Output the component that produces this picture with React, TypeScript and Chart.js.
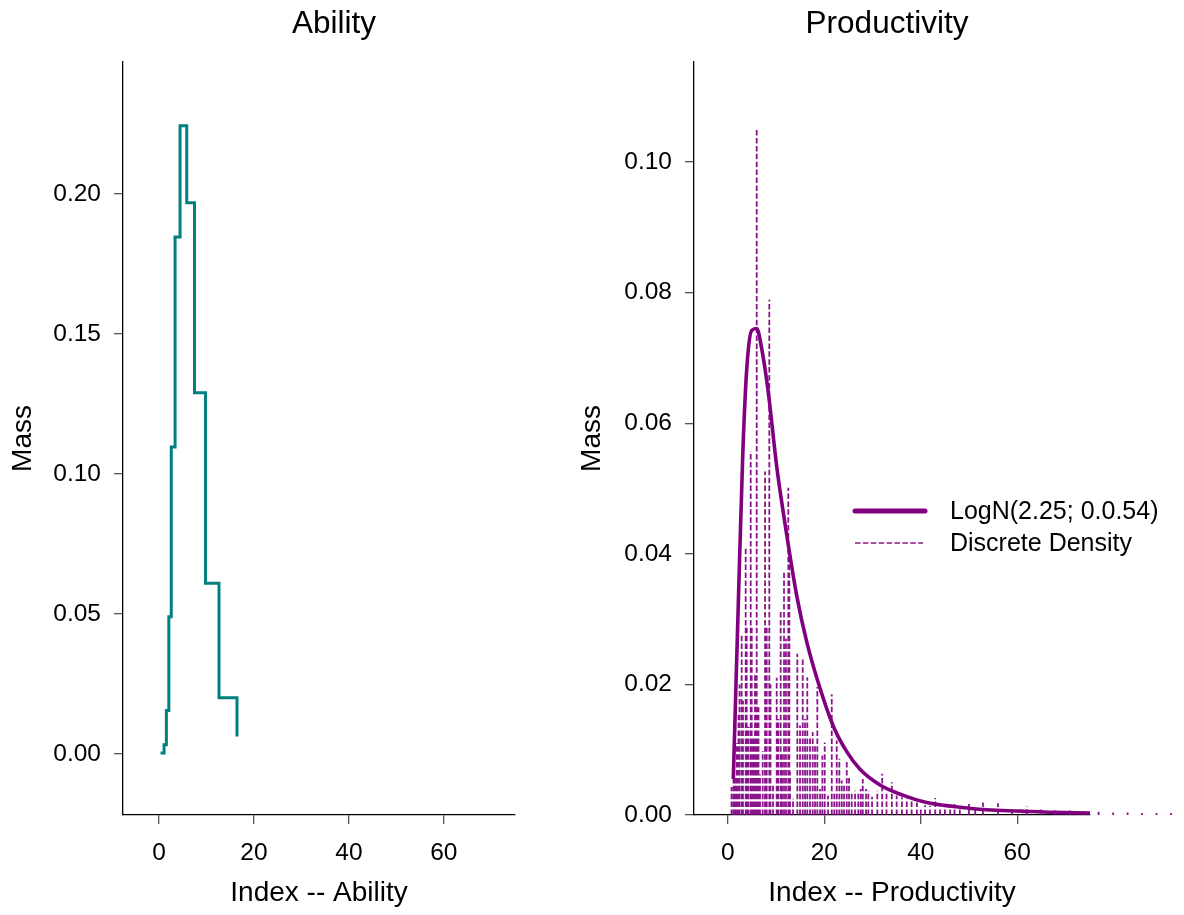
import React, { useEffect, useRef } from "react";
import { Chart, registerables } from "chart.js";

Chart.register(...registerables);

const FONT = "'Liberation Sans', Arial, Helvetica, sans-serif";
const PURPLE = "#800080";
const STEM_COLOR = "rgba(128,0,128,0.92)";
const TEAL = "#008080";

// ---------- Ability panel ----------
const abilityIndex = [0.32, 1.05, 1.54, 2.06, 2.57, 3.37, 4.42, 5.83, 7.47, 9.79, 12.63, 16.42];
const abilityMass = [0.0003, 0.0033, 0.0155, 0.049, 0.1096, 0.1846, 0.2243, 0.1968, 0.129, 0.061, 0.0201, 0.0062];
const abilityXTicks = [0, 20, 40, 60];
const abilityYTicks = [0, 0.05, 0.1, 0.15, 0.2];

// ---------- Productivity panel ----------
const logNormIndex = [
  1.12, 2.16, 3.07, 3.9, 4.94, 5.98, 7.01, 8.38, 10.12, 12.2, 14.27, 16.35, 19.1, 21.87, 24.65, 27.4,
  31.55, 36.4, 41.2, 46.8, 53.7, 60.6, 67.4, 75.1,
];
const logNormMass = [
  0.0055, 0.0324, 0.0549, 0.0682, 0.0742, 0.0745, 0.0714, 0.0647, 0.0534, 0.0429, 0.0336, 0.0265, 0.0194,
  0.0136, 0.0097, 0.007, 0.0046, 0.003, 0.0019, 0.0013, 0.0008, 0.0006, 0.0004, 0.0003,
];
const discreteIndex = [
  0.75, 1.16, 1.47, 1.83, 2.2, 2.41, 2.86, 3.13, 3.69, 3.9, 4.27, 4.73, 4.94, 5.31, 5.62, 5.98, 6.35, 6.66,
  7.22, 7.7, 8.05, 8.59, 8.84, 9.36, 10.12, 10.46, 10.95, 11.22, 11.64, 12.05, 12.53, 12.74, 12.88, 13.51,
  14.4, 14.96, 15.52, 16.0, 16.47, 17.03, 17.59, 18.07, 18.55, 19.11, 19.59, 20.08, 20.77, 21.54, 22.07,
  22.57, 23.11, 23.61, 24.09, 24.65, 25.12, 25.68, 26.37, 27.05, 27.55, 27.97, 28.65, 29.13, 29.9, 31.0,
  32.0, 32.9, 34.0, 35.0, 36.1, 37.1, 38.1, 39.2, 40.0, 40.9, 41.9, 43.0, 44.0, 45.0, 46.1, 47.0, 48.1,
  50.0, 51.3, 52.9, 56.0, 58.9, 62.0, 65.0, 67.9, 70.9, 73.9, 76.9, 79.9, 82.9, 85.9, 88.9, 91.9,
];
const discreteMass = [
  0.0043, 0.0085, 0.0059, 0.011, 0.0155, 0.02, 0.0277, 0.0175, 0.041, 0.029, 0.0135, 0.0557, 0.029, 0.012,
  0.0217, 0.1052, 0.0165, 0.0062, 0.0098, 0.0526, 0.029, 0.0789, 0.02, 0.0045, 0.021, 0.0147, 0.0312,
  0.0095, 0.0371, 0.027, 0.0501, 0.039, 0.0066, 0.0025, 0.0247, 0.0137, 0.0241, 0.0147, 0.0211, 0.0119,
  0.0127, 0.0106, 0.0196, 0.004, 0.0091, 0.0111, 0.003, 0.0185, 0.0035, 0.0114, 0.0086, 0.0053, 0.0045,
  0.0083, 0.006, 0.0035, 0.0037, 0.0035, 0.004, 0.0055, 0.004, 0.0037, 0.0028, 0.0037, 0.0063, 0.0035,
  0.005, 0.003, 0.0027, 0.0025, 0.0022, 0.0019, 0.0011, 0.0015, 0.0014, 0.0026, 0.0013, 0.0009, 0.0009,
  0.0017, 0.001, 0.0017, 0.0008, 0.0019, 0.0018, 0.001, 0.0013, 0.001, 0.0007, 0.0007, 0.0006, 0.0005,
  0.0004, 0.0004, 0.0003, 0.0003, 0.0003,
];
const prodXTicks = [0, 20, 40, 60];
const prodYTicks = [0, 0.02, 0.04, 0.06, 0.08, 0.1];

const panelTitles = ["Ability", "Productivity"];
const xTitles = ["Index -- Ability", "Index -- Productivity"];
const yTitle = "Mass";
const seriesLabels = ["LogN(2.25; 0.0.54)", "Discrete Density"];

type AxisSpec = {
  xMin: number;
  xMax: number;
  yMin: number;
  yMax: number;
  xTicks: number[];
  yTicks: number[];
  xTitle: string;
  yWidth: number;
  yTitlePad: number;
};

function buildScales(s: AxisSpec) {
  const tickFont = { family: FONT, size: 24.5 };
  const titleFont = { family: FONT, size: 28 };
  const grid = {
    display: true,
    drawOnChartArea: false,
    drawTicks: true,
    tickLength: 9,
    tickColor: "#555555",
    tickWidth: 1.3,
    lineWidth: 1.3,
  };
  const border = { display: true, color: "#000000", width: 1.3 };
  return {
    x: {
      type: "linear",
      position: "bottom",
      bounds: "data",
      afterBuildTicks: (sc: any) => {
        sc.ticks = s.xTicks.map((v) => ({ value: v }));
        sc.min = s.xMin;
        sc.max = s.xMax;
      },
      afterFit: (sc: any) => {
        sc.height = 100;
      },
      grid,
      border,
      ticks: {
        font: tickFont,
        color: "#000",
        padding: 14.5,
        maxRotation: 0,
        autoSkip: false,
        callback: (v: any) => String(v),
      },
      title: {
        display: true,
        text: s.xTitle,
        font: titleFont,
        color: "#000",
        padding: { top: 0, bottom: 5 },
      },
    },
    y: {
      type: "linear",
      position: "left",
      bounds: "data",
      afterBuildTicks: (sc: any) => {
        sc.ticks = s.yTicks.map((v) => ({ value: v }));
        sc.min = s.yMin;
        sc.max = s.yMax;
      },
      afterFit: (sc: any) => {
        sc.width = s.yWidth;
      },
      grid,
      border,
      ticks: {
        font: tickFont,
        color: "#000",
        padding: 13,
        autoSkip: false,
        callback: (v: any) => Number(v).toFixed(2),
      },
      title: {
        display: true,
        text: yTitle,
        font: titleFont,
        color: "#000",
        padding: { top: s.yTitlePad, bottom: 0 },
      },
    },
  };
}

function titlePlugin(text: string, cx: number) {
  return {
    id: "panelTitle",
    afterDraw(chart: any) {
      const ctx = chart.ctx;
      ctx.save();
      ctx.font = `31.5px ${FONT}`;
      ctx.fillStyle = "#000";
      ctx.textAlign = "center";
      ctx.textBaseline = "alphabetic";
      ctx.fillText(text, cx, 33);
      ctx.restore();
    },
  };
}

const innerLegend = {
  id: "innerLegend",
  afterDraw(chart: any) {
    const ctx = chart.ctx;
    const area = chart.chartArea;
    const x0 = area.left + 161;
    const rows = [
      { y: area.top + 449, width: 5, dash: [] as number[], len: 70 },
      { y: area.top + 481, width: 1.6, dash: [5.5, 2.4], len: 68 },
    ];
    ctx.save();
    chart.data.datasets.forEach((ds: any, i: number) => {
      const r = rows[i];
      ctx.beginPath();
      ctx.strokeStyle = ds.borderColor;
      ctx.lineWidth = r.width;
      ctx.lineCap = i === 0 ? "round" : "butt";
      ctx.setLineDash(r.dash);
      ctx.moveTo(x0, r.y);
      ctx.lineTo(x0 + r.len, r.y);
      ctx.stroke();
      ctx.setLineDash([]);
      ctx.font = `25px ${FONT}`;
      ctx.fillStyle = "#000";
      ctx.textAlign = "left";
      ctx.textBaseline = "middle";
      ctx.fillText(ds.label, x0 + 95, r.y + 1);
    });
    ctx.restore();
  },
};

export default function App() {
  const leftRef = useRef<HTMLCanvasElement>(null);
  const rightRef = useRef<HTMLCanvasElement>(null);

  useEffect(() => {
    const abilityData = abilityIndex.map((x, i) => ({ x, y: abilityMass[i] }));
    const left = new Chart(leftRef.current as HTMLCanvasElement, {
      type: "line",
      data: {
        datasets: [
          {
            label: "Ability",
            data: abilityData,
            borderColor: TEAL,
            borderWidth: 3,
            pointRadius: 0,
            stepped: true,
            fill: false,
            clip: false,
          } as any,
        ],
      },
      options: {
        responsive: false,
        animation: false,
        devicePixelRatio: 1,
        events: [],
        layout: { padding: { left: 0, right: 669, top: 62, bottom: 0 } },
        plugins: { legend: { display: false }, tooltip: { enabled: false }, title: { display: false } },
        scales: buildScales({
          xMin: -7.6,
          xMax: 75,
          yMin: -0.0218,
          yMax: 0.2471,
          xTicks: abilityXTicks,
          yTicks: abilityYTicks,
          xTitle: xTitles[0],
          yWidth: 123,
          yTitlePad: 6.5,
        }) as any,
      },
      plugins: [titlePlugin(panelTitles[0], 334)],
    });

    const curveData = logNormIndex.map((x, i) => ({ x, y: logNormMass[i] }));
    const stemData: { x: number; y: number | null }[] = [];
    discreteIndex.forEach((x, i) => {
      stemData.push({ x, y: 0 }, { x, y: discreteMass[i] }, { x, y: null });
    });

    const right = new Chart(rightRef.current as HTMLCanvasElement, {
      type: "line",
      data: {
        datasets: [
          {
            label: seriesLabels[0],
            data: curveData,
            borderColor: PURPLE,
            borderWidth: 3.6,
            pointRadius: 0,
            cubicInterpolationMode: "monotone",
            borderJoinStyle: "round",
            fill: false,
            clip: false,
          } as any,
          {
            label: seriesLabels[1],
            data: stemData,
            borderColor: STEM_COLOR,
            borderWidth: 1.8,
            borderDash: [5.5, 2.4],
            pointRadius: 0,
            spanGaps: false,
            fill: false,
            clip: false,
          } as any,
        ],
      },
      options: {
        responsive: false,
        animation: false,
        devicePixelRatio: 1,
        events: [],
        layout: { padding: { left: 560, right: 94, top: 62, bottom: 0 } },
        plugins: { legend: { display: false }, tooltip: { enabled: false }, title: { display: false } },
        scales: buildScales({
          xMin: -7.03,
          xMax: 75.1,
          yMin: 0,
          yMax: 0.1153,
          xTicks: prodXTicks,
          yTicks: prodYTicks,
          xTitle: xTitles[1],
          yWidth: 134,
          yTitlePad: 15,
        }) as any,
      },
      plugins: [titlePlugin(panelTitles[1], 887), innerLegend],
    });

    return () => {
      left.destroy();
      right.destroy();
    };
  }, []);

  return (
    <div style={{ position: "absolute", left: 0, top: 0, width: 1184, height: 915, background: "#ffffff" }}>
      <canvas ref={leftRef} width={1184} height={915} style={{ position: "absolute", left: 0, top: 0 }} />
      <canvas ref={rightRef} width={1184} height={915} style={{ position: "absolute", left: 0, top: 0 }} />
    </div>
  );
}
